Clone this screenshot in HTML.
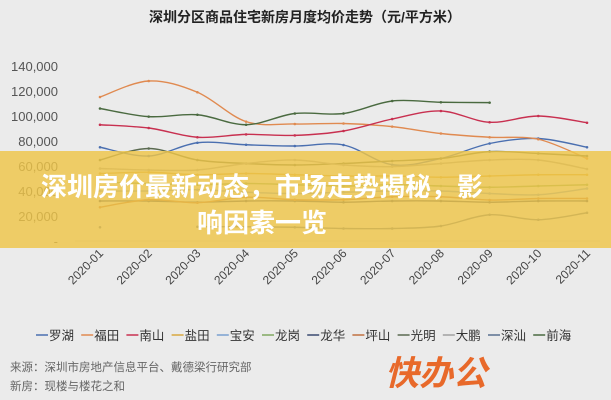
<!DOCTYPE html>
<html><head><meta charset="utf-8"><style>
body{margin:0;background:#ebebeb;}
svg{display:block;font-family:"Liberation Sans","Noto Sans CJK SC",sans-serif;}
</style></head><body>
<svg id="c" width="611" height="400" viewBox="0 0 611 400">
<rect width="611" height="400" fill="#ebebeb"/>
<text x="305" y="22" text-anchor="middle" font-size="14" font-weight="bold" fill="#222">深圳分区商品住宅新房月度均价走势（元/平方米）</text>
<g id="grid"></g><g id="ylab"></g><g id="xlab"></g><g id="lines"></g>
<rect x="0" y="151" width="611" height="97" fill="rgba(238,196,72,0.82)"/>
<text x="262" y="196" text-anchor="middle" font-size="26" font-weight="bold" fill="#fff" font-family="'Noto Sans CJK SC',sans-serif">深圳房价最新动态，市场走势揭秘，影</text>
<text x="262" y="232" text-anchor="middle" font-size="26" font-weight="bold" fill="#fff" font-family="'Noto Sans CJK SC',sans-serif">响因素一览</text>
<g id="legend"></g>
<text x="10" y="371" font-size="11.5" fill="#666">来源：深圳市房地产信息平台、戴德梁行研究部</text>
<text x="10" y="390" font-size="11.5" fill="#666">新房：现楼与楼花之和</text>
<text x="385" y="385" font-size="34" font-weight="bold" font-style="italic" fill="#e8692a" font-family="'Noto Sans CJK SC',sans-serif">快办公</text>
</svg>
<script>
const categories=["2020-01","2020-02","2020-03","2020-04","2020-05","2020-06","2020-07","2020-08","2020-09","2020-10","2020-11"];
const yTicks=[0,20000,40000,60000,80000,100000,120000,140000];
const seriesNames=["罗湖","福田","南山","盐田","宝安","龙岗","龙华","坪山","光明","大鹏","深汕","前海"];
const seriesColors=["#4a6fb0","#e08a50","#c83050","#d8a840","#7aa0d0","#80a860","#3a4a70","#c07040","#5a6a50","#a0a0a0","#5a7090","#4a6a40"];
const luohu=[75000,68000,78600,77000,76000,76800,61000,66000,78000,82000,75000];
const futian=[115200,128000,119000,95500,93600,94000,91500,86000,83000,81400,66000];
const nanshan=[93000,90400,83000,85300,84500,88000,97600,104000,95000,100000,94600];
const yantian=[54000,55000,53000,54000,53000,52000,52000,51000,52000,53000,53000];
const baoan=[40000,40000,41000,39000,38000,39000,40000,40000,38000,37000,42000];
const longgang=[47000,46000,45000,46000,45000,44000,45000,44000,43000,44000,45000];
const longhua=[32000,32000,31000,32000,32000,31000,32000,32000,31000,32000,32000];
const pingshan=[27000,33000,30600,35000,33000,33000,35400,35400,32800,34000,34000];
const guangming=[64800,74000,64800,62000,60800,62000,64000,66000,71500,70000,68000];
const dapeng=[58000,56800,56800,62000,64800,60800,59500,62000,64800,64800,57600];
const shenshan=[11000,null,11400,11400,11000,10000,10000,12000,21000,17000,22600];
const qianhai=[106000,99500,101000,93000,102000,102000,112000,111000,110700,null,null];
const allSeries=[luohu,futian,nanshan,yantian,baoan,longgang,longhua,pingshan,guangming,dapeng,shenshan,qianhai];
const NS="http://www.w3.org/2000/svg";
const x0=100,x1=587,yBase=241,yPerUnit=25/20000;
const xs=i=>x0+i*(x1-x0)/(categories.length-1);
const ys=v=>yBase-v*yPerUnit;
function mk(t,a,p){const e=document.createElementNS(NS,t);for(const k in a)e.setAttribute(k,a[k]);p.appendChild(e);return e;}
const grid=document.getElementById('grid'),ylab=document.getElementById('ylab'),xlab=document.getElementById('xlab'),lines=document.getElementById('lines'),legend=document.getElementById('legend');
yTicks.forEach(v=>{
  const t=mk('text',{x:58,y:ys(v)+5,'text-anchor':'end','font-size':13,fill:'#555'},ylab);
  
  
  t.textContent=v===0?'-':v.toLocaleString('en-US');
});
const gl=mk('line',{x1:75,x2:600,y1:ys(0),y2:ys(0),stroke:'#d8d8d8'},grid);


categories.forEach((c,i)=>{
  const x=xs(i)+4,y=254;
  const t=mk('text',{x:x,y:y,'text-anchor':'end','font-size':12,fill:'#444',transform:`rotate(-45 ${x} ${y})`},xlab);
  
  
  t.textContent=c;
});
function smoothPath(pts){
  let d=`M${pts[0][0]},${pts[0][1]}`;
  for(let i=0;i<pts.length-1;i++){
    const p0=pts[i-1]||pts[i],p1=pts[i],p2=pts[i+1],p3=pts[i+2]||p2;
    const c1=[p1[0]+(p2[0]-p0[0])/6,p1[1]+(p2[1]-p0[1])/6],c2=[p2[0]-(p3[0]-p1[0])/6,p2[1]-(p3[1]-p1[1])/6];
    d+=` C${c1[0]},${c1[1]} ${c2[0]},${c2[1]} ${p2[0]},${p2[1]}`;
  }
  return d;
}
allSeries.forEach((s,si)=>{
  let segs=[],cur=[];
  s.forEach((v,i)=>{if(v==null){if(cur.length)segs.push(cur);cur=[];}else cur.push([xs(i),ys(v)]);});
  if(cur.length)segs.push(cur);
  segs.forEach(seg=>{
    if(seg.length>1){
      const p=mk('path',{d:smoothPath(seg),fill:'none',stroke:seriesColors[si],'stroke-width':1.4},lines);
      
      
    }
    seg.forEach(pt=>{
      const c=mk('circle',{cx:pt[0],cy:pt[1],r:1.3,fill:seriesColors[si]},lines);
      
      
    });
  });
});
let lx=36;
seriesNames.forEach((n,i)=>{
  const g=mk('g',{},legend);
  
  
  mk('line',{x1:lx,x2:lx+12,y1:335,y2:335,stroke:seriesColors[i],'stroke-width':1.5},g);
  const t=mk('text',{x:lx+13,y:340,'font-size':12.5,fill:'#333'},g);
  t.textContent=n;
  lx+=45.2;
});
</script>
</body></html>
